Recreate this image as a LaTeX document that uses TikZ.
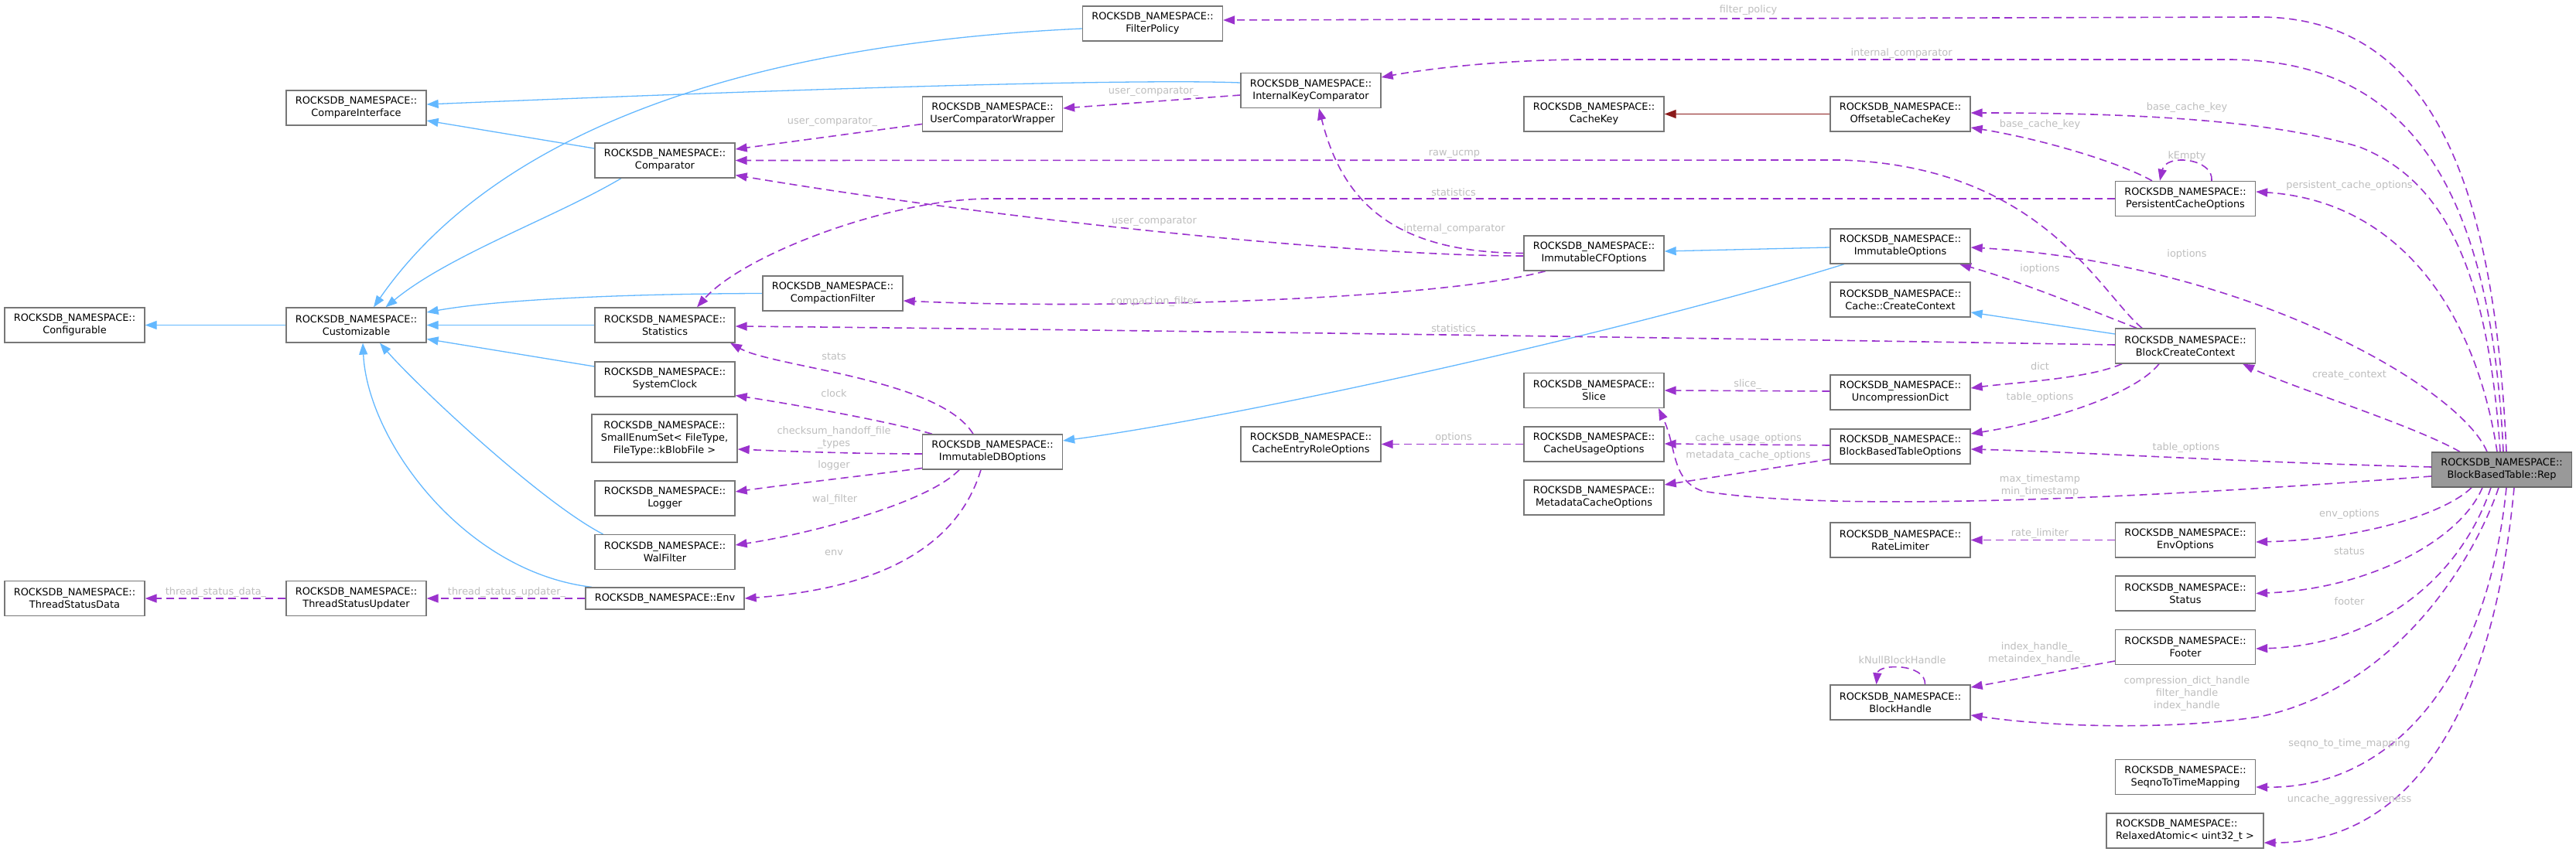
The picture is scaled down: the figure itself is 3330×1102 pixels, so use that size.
\documentclass[tikz,border=0pt]{standalone}
\usepackage{fontspec}
\setmainfont{DejaVu Sans}
\usetikzlibrary{arrows.meta,backgrounds}
\definecolor{inhblue}{HTML}{63B8FF}
\definecolor{usepurple}{HTML}{9A32CD}
\definecolor{tmplred}{HTML}{8B1A1A}
\definecolor{nodeborder}{HTML}{777777}
\definecolor{lblgray}{HTML}{BEBEBE}
\definecolor{repfill}{HTML}{999999}
\newcommand\dxfont{\fontsize{12.9pt}{16pt}\selectfont}
\begin{document}
\begin{tikzpicture}[x=1pt,y=-1pt,
  cls/.style={draw=nodeborder, line width=1.3pt, fill=white, minimum width=181pt, minimum height=45pt, inner sep=0pt, align=center, font=\dxfont},
  lbl/.style={text=lblgray, font=\dxfont, inner sep=0pt, align=center},
  inh/.style={draw=inhblue, line width=1.3pt, -{Triangle[length=15pt,width=11pt]}},
  use/.style={draw=usepurple, line width=1.6pt, dash pattern=on 10pt off 6pt, -{Triangle[length=15pt,width=11pt]}},
  tmpl/.style={draw=tmplred, line width=1.3pt, -{Triangle[length=15pt,width=11pt]}}]
\useasboundingbox (0,0) rectangle (3330,1102);

% nodes
\node[cls] (configurable) at (96.5,420.5) {ROCKSDB\_NAMESPACE::\\Configurable};
\node[cls] (compareinterface) at (460.5,139.5) {ROCKSDB\_NAMESPACE::\\CompareInterface};
\node[cls] (customizable) at (460.5,420.5) {ROCKSDB\_NAMESPACE::\\Customizable};
\node[cls] (comparator) at (859.5,207.5) {ROCKSDB\_NAMESPACE::\\Comparator};
\node[cls] (statistics) at (859.5,420.5) {ROCKSDB\_NAMESPACE::\\Statistics};
\node[cls] (systemclock) at (859.5,490.5) {ROCKSDB\_NAMESPACE::\\SystemClock};
\node[cls, minimum width=188pt, minimum height=62pt] (smallenum) at (859,567) {ROCKSDB\_NAMESPACE::\\SmallEnumSet< FileType,\\FileType::kBlobFile >};
\node[cls] (logger) at (859.5,644.5) {ROCKSDB\_NAMESPACE::\\Logger};
\node[cls] (walfilter) at (859.5,714) {ROCKSDB\_NAMESPACE::\\WalFilter};
\node[cls, minimum width=205pt, minimum height=28pt] (env) at (859.5,774) {ROCKSDB\_NAMESPACE::Env};
\node[cls] (tsd) at (96.5,774) {ROCKSDB\_NAMESPACE::\\ThreadStatusData};
\node[cls] (tsu) at (460.5,774) {ROCKSDB\_NAMESPACE::\\ThreadStatusUpdater};
\node[cls] (compactionfilter) at (1076.5,379.5) {ROCKSDB\_NAMESPACE::\\CompactionFilter};
\node[cls] (filterpolicy) at (1490,30.5) {ROCKSDB\_NAMESPACE::\\FilterPolicy};
\node[cls] (ucw) at (1283,147.5) {ROCKSDB\_NAMESPACE::\\UserComparatorWrapper};
\node[cls] (idbo) at (1283,584.5) {ROCKSDB\_NAMESPACE::\\ImmutableDBOptions};
\node[cls] (ikc) at (1694.5,117) {ROCKSDB\_NAMESPACE::\\InternalKeyComparator};
\node[cls] (cero) at (1694.5,574.5) {ROCKSDB\_NAMESPACE::\\CacheEntryRoleOptions};
\node[cls] (cachekey) at (2060.5,147.5) {ROCKSDB\_NAMESPACE::\\CacheKey};
\node[cls] (icfo) at (2060.5,327.5) {ROCKSDB\_NAMESPACE::\\ImmutableCFOptions};
\node[cls] (slice) at (2060.5,505) {ROCKSDB\_NAMESPACE::\\Slice};
\node[cls] (cuo) at (2060.5,574.5) {ROCKSDB\_NAMESPACE::\\CacheUsageOptions};
\node[cls] (mco) at (2060.5,643.5) {ROCKSDB\_NAMESPACE::\\MetadataCacheOptions};
\node[cls] (ock) at (2456.5,147.5) {ROCKSDB\_NAMESPACE::\\OffsetableCacheKey};
\node[cls] (immutableoptions) at (2456.5,318.5) {ROCKSDB\_NAMESPACE::\\ImmutableOptions};
\node[cls] (cachecreatecontext) at (2456.5,387.5) {ROCKSDB\_NAMESPACE::\\Cache::CreateContext};
\node[cls] (ud) at (2456.5,507.5) {ROCKSDB\_NAMESPACE::\\UncompressionDict};
\node[cls] (bbto) at (2456.5,577.5) {ROCKSDB\_NAMESPACE::\\BlockBasedTableOptions};
\node[cls] (ratelimiter) at (2456.5,698.5) {ROCKSDB\_NAMESPACE::\\RateLimiter};
\node[cls] (blockhandle) at (2456.5,908.5) {ROCKSDB\_NAMESPACE::\\BlockHandle};
\node[cls] (pco) at (2825,257) {ROCKSDB\_NAMESPACE::\\PersistentCacheOptions};
\node[cls] (bcc) at (2825,447.5) {ROCKSDB\_NAMESPACE::\\BlockCreateContext};
\node[cls] (envoptions) at (2825,698.5) {ROCKSDB\_NAMESPACE::\\EnvOptions};
\node[cls] (status) at (2825,767.5) {ROCKSDB\_NAMESPACE::\\Status};
\node[cls] (footer) at (2825,837) {ROCKSDB\_NAMESPACE::\\Footer};
\node[cls] (seqno) at (2825,1005) {ROCKSDB\_NAMESPACE::\\SeqnoToTimeMapping};
\node[cls, minimum width=203pt, align=left] (relaxed) at (2824.5,1074.5) {ROCKSDB\_NAMESPACE::\\RelaxedAtomic< uint32\_t >};
\node[cls, fill=repfill, draw=black!60] (rep) at (3234,607.5) {ROCKSDB\_NAMESPACE::\\BlockBasedTable::Rep};

\begin{scope}[on background layer]
\fill[white] (0,0) rectangle (3330,1102);
% inheritance
\draw[inh] (customizable.west) -- (configurable.east);
\draw[inh] ([yshift=15.5pt]comparator.west) -- ([yshift=-16.5pt]compareinterface.east);
\draw[inh] ([xshift=-56.5pt]comparator.south) .. controls (720,280) and (580,330) .. ([xshift=38pt]customizable.north);
\draw[inh] ([yshift=10pt]ikc.west) .. controls (1500,103) and (1200,108) .. ([yshift=4.5pt]compareinterface.east);
\draw[inh] ([yshift=-6.5pt]filterpolicy.west) .. controls (900,60) and (620,200) .. ([xshift=22.5pt]customizable.north);
\draw[inh] (compactionfilter.west) .. controls (800,380) and (640,388) .. ([yshift=16.5pt]customizable.east);
\draw[inh] (statistics.west) -- (customizable.east);
\draw[inh] ([yshift=16.5pt]systemclock.west) -- ([yshift=-18pt]customizable.east);
\draw[inh] ([xshift=-80pt]walfilter.north) .. controls (700,650) and (540,500) .. ([xshift=30.5pt]customizable.south);
\draw[inh] ([xshift=-94.5pt]env.north) .. controls (600,740) and (475,570) .. ([xshift=8.5pt]customizable.south);
\draw[inh] ([yshift=-1.5pt]immutableoptions.west) -- ([yshift=2.5pt]icfo.east);
\draw[inh] ([xshift=-72.5pt]immutableoptions.south) .. controls (2100,430) and (1600,540) .. ([yshift=14.5pt]idbo.east);
\draw[inh] ([yshift=15.5pt]bcc.west) -- ([yshift=-16.5pt]cachecreatecontext.east);
\draw[tmpl] (ock.west) -- (cachekey.east);

% usage
\draw[use] ([xshift=6pt]rep.north) .. controls (3225,250) and (3150,22) .. (2920,22) -- ([yshift=4.5pt]filterpolicy.east);
\draw[use] ([xshift=2pt]rep.north) .. controls (3220,250) and (3120,77) .. (2880,77) -- (2050,77) .. controls (1950,77) and (1850,88) .. ([yshift=17pt]ikc.east);
\draw[use] ([yshift=-6pt]ikc.west) -- ([yshift=7.5pt]ucw.east);
\draw[use] ([yshift=-13pt]ucw.west) -- ([yshift=14.5pt]comparator.east);
\draw[use] ([xshift=-56pt]bcc.north) .. controls (2715,380) and (2640,215) .. (2380,207) -- (comparator.east);
\draw[use] ([yshift=-3.5pt]icfo.west) .. controls (1750,331) and (1300,285) .. ([yshift=-19pt]comparator.east);
\draw[use] (icfo.west) .. controls (1800,327) and (1735,260) .. ([xshift=10.5pt]ikc.south);
\draw[use] (pco.west) -- (1280,257) .. controls (1150,257) and (960,330) .. ([xshift=41.5pt]statistics.north);
\draw[use] ([xshift=-62.5pt]icfo.south) .. controls (1850,390) and (1400,400) .. ([yshift=-9.5pt]compactionfilter.east);
\draw[use] ([yshift=1.5pt]bcc.west) .. controls (2200,437) and (1300,425) .. ([yshift=-1.5pt]statistics.east);
\draw[use] ([xshift=-25pt]idbo.north) .. controls (1215,490) and (1000,475) .. ([xshift=84.5pt]statistics.south);
\draw[use] ([xshift=-78pt]idbo.north) .. controls (1150,545) and (1020,522) .. ([yshift=-21pt]systemclock.east);
\draw[use] ([yshift=-2.5pt]idbo.west) .. controls (1100,587) and (1000,583) .. ([yshift=-14pt]smallenum.east);
\draw[use] ([yshift=-21pt]idbo.west) .. controls (1120,615) and (1030,625) .. ([yshift=8.5pt]logger.east);
\draw[use] ([xshift=-43pt]idbo.south) .. controls (1200,650) and (1050,690) .. ([yshift=9pt]walfilter.east);
\draw[use] ([xshift=-15pt]idbo.south) .. controls (1240,700) and (1150,760) .. (env.east);
\draw[use] (env.west) -- (tsu.east);
\draw[use] (tsu.west) -- (tsd.east);
\draw[use] ([xshift=-2pt]rep.north) .. controls (3215,330) and (3150,230) .. (3050,190) .. controls (2950,160) and (2800,146) .. ([yshift=1.5pt]ock.east);
\draw[use] ([xshift=-43pt]pco.north) .. controls (2740,210) and (2640,180) .. ([yshift=-17.5pt]ock.east);
\draw[use] ([xshift=34pt]pco.north) .. controls (2862,205) and (2800,198) .. ([xshift=-33pt]pco.north);
\draw[use] ([xshift=-6pt]rep.north) .. controls (3200,400) and (3100,260) .. ([yshift=9pt]pco.east);
\draw[use] ([xshift=-19pt]rep.north) .. controls (3180,500) and (2900,340) .. ([yshift=-1.5pt]immutableoptions.east);
\draw[use] ([xshift=-63pt]bcc.north) .. controls (2700,400) and (2600,360) .. ([xshift=76.5pt]immutableoptions.south);
\draw[use] ([xshift=-54pt]rep.north) .. controls (3120,550) and (2960,500) .. ([xshift=74pt]bcc.south);
\draw[use] ([xshift=-82pt]bcc.south) .. controls (2700,490) and (2600,495) .. ([yshift=5.5pt]ud.east);
\draw[use] ([xshift=-34pt]bcc.south) .. controls (2760,510) and (2650,545) .. ([yshift=16.5pt]bbto.east);
\draw[use] ([yshift=1.5pt]ud.west) -- (slice.east);
\draw[use] ([yshift=-8.5pt]rep.west) .. controls (2700,650) and (2350,660) .. (2200,635) .. controls (2160,620) and (2168,580) .. ([xshift=83.5pt]slice.south);
\draw[use] ([yshift=1.5pt]bbto.west) -- ([yshift=0.5pt]cuo.east);
\draw[use] ([yshift=-16.5pt]bbto.west) -- ([yshift=16.5pt]mco.east);
\draw[use] (cuo.west) -- (cero.east);
\draw[use] ([yshift=3.5pt]rep.west) .. controls (2900,598) and (2700,585) .. ([yshift=-3.5pt]bbto.east);
\draw[use] (envoptions.west) -- (ratelimiter.east);
\draw[use] ([xshift=-39pt]rep.south) .. controls (3160,665) and (3050,698) .. ([yshift=-2.5pt]envoptions.east);
\draw[use] ([xshift=-25pt]rep.south) .. controls (3180,700) and (3060,762) .. (status.east);
\draw[use] ([xshift=-14pt]rep.south) .. controls (3180,750) and (3070,835) .. ([yshift=-2pt]footer.east);
\draw[use] ([yshift=-18pt]footer.west) -- ([yshift=19.5pt]blockhandle.east);
\draw[use] ([xshift=32pt]blockhandle.north) .. controls (2490,858) and (2428,858) .. ([xshift=-31pt]blockhandle.north);
\draw[use] ([xshift=-4pt]rep.south) .. controls (3200,720) and (3100,890) .. (2921,927) .. controls (2800,945) and (2650,940) .. ([yshift=-16.5pt]blockhandle.east);
\draw[use] ([xshift=6pt]rep.south) .. controls (3215,880) and (3090,1020) .. ([yshift=-13pt]seqno.east);
\draw[use] ([xshift=16pt]rep.south) .. controls (3220,950) and (3100,1090) .. ([yshift=-15.5pt]relaxed.east);
\end{scope}

% labels
\node[lbl] (l1) at (2260,13) {filter\_policy};
\node[lbl] (l2) at (2458,69) {internal\_comparator};
\node[lbl] (l3) at (1491,118) {user\_comparator\_};
\node[lbl] (l4) at (1076,157) {user\_comparator\_};
\node[lbl] (l5) at (1880,199) {raw\_ucmp};
\node[lbl] (l6) at (1879,249) {statistics};
\node[lbl] (l7) at (1492,286) {user\_comparator};
\node[lbl] (l8) at (1880,296) {internal\_comparator};
\node[lbl] (l9) at (1492,390) {compaction\_filter};
\node[lbl] (l10) at (1879,425) {statistics};
\node[lbl] (l11) at (1078,461) {stats};
\node[lbl] (l12) at (1078,509) {clock};
\node[lbl] (l13) at (1078,566) {checksum\_handoff\_file\\\_types};
\node[lbl] (l14) at (1078,602) {logger};
\node[lbl] (l15) at (1079,646) {wal\_filter};
\node[lbl] (l16) at (1078,715) {env};
\node[lbl] (l17) at (655,766) {thread\_status\_updater\_};
\node[lbl] (l18) at (279,766) {thread\_status\_data\_};
\node[lbl] (l19) at (2827,139) {base\_cache\_key};
\node[lbl] (l20) at (2637,161) {base\_cache\_key};
\node[lbl] (l21) at (2827,202) {kEmpty};
\node[lbl] (l22) at (3037,240) {persistent\_cache\_options};
\node[lbl] (l23) at (2827,329) {ioptions};
\node[lbl] (l24) at (2637,348) {ioptions};
\node[lbl] (l25) at (3037,485) {create\_context};
\node[lbl] (l26) at (2637,474) {dict};
\node[lbl] (l27) at (2637,514) {table\_options};
\node[lbl] (l28) at (2259,497) {slice\_};
\node[lbl] (l29) at (2260,567) {cache\_usage\_options};
\node[lbl] (l30) at (2260,589) {metadata\_cache\_options};
\node[lbl] (l31) at (1879,566) {options};
\node[lbl] (l32) at (2826,579) {table\_options};
\node[lbl] (l33) at (2637,628) {max\_timestamp\\min\_timestamp};
\node[lbl] (l34) at (2637,690) {rate\_limiter};
\node[lbl] (l35) at (3037,665) {env\_options};
\node[lbl] (l36) at (3037,713) {status};
\node[lbl] (l37) at (3037,778) {footer};
\node[lbl] (l38) at (2633,845) {index\_handle\_\\metaindex\_handle\_};
\node[lbl] (l39) at (2459,854) {kNullBlockHandle};
\node[lbl] (l40) at (2827,897) {compression\_dict\_handle\\filter\_handle\\index\_handle};
\node[lbl] (l41) at (3037,962) {seqno\_to\_time\_mapping};
\node[lbl] (l42) at (3037,1034) {uncache\_aggressiveness};
\end{tikzpicture}
\end{document}
